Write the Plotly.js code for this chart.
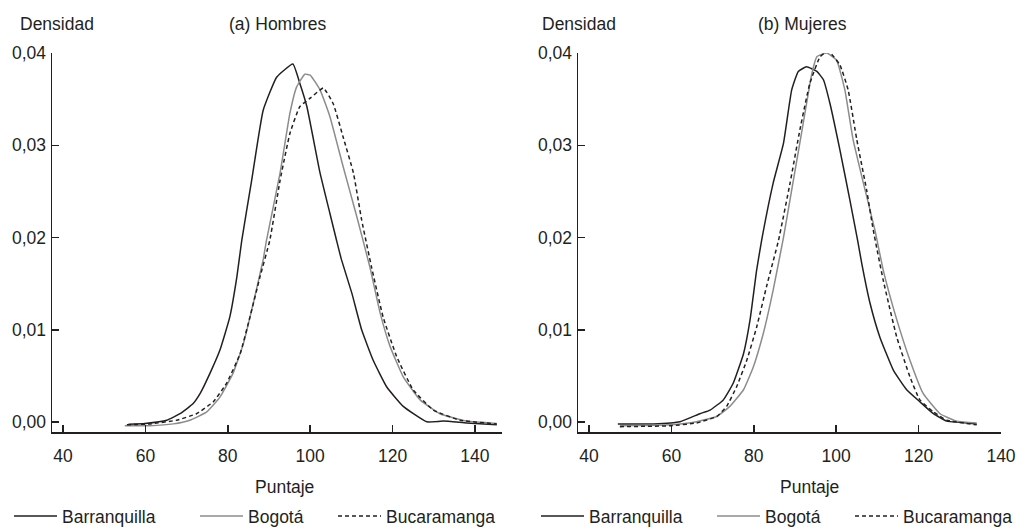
<!DOCTYPE html>
<html>
<head>
<meta charset="utf-8">
<script src="https://cdn.plot.ly/plotly-3.0.1.min.js"></script>
<style>
html,body{margin:0;padding:0;background:#fff;}
#chart{width:1019px;height:529px;}
</style>
</head>
<body>
<div id="chart"></div>
<script>
// ---- data ----
const seriesNames = ['Barranquilla', 'Bogotá', 'Bucaramanga'];
const panelTitles = ['(a) Hombres', '(b) Mujeres'];
const yTitle = 'Densidad';
const xTitle = 'Puntaje';
const xTickVals = [40, 60, 80, 100, 120, 140];
const yTickVals = [0, 0.01, 0.02, 0.03, 0.04];

// (a) Hombres
const menBarrX = [55.9, 59.9, 65.2, 68.4, 71.6, 73.3, 75.7, 78.1, 80.5, 82.2, 83.4, 85.8, 88.6, 91.9, 95.8, 97.5, 99.2, 102.4, 104.8, 106.4, 107.6, 110.1, 112.5, 115.3, 118.6, 122.6, 128.3, 132.3, 138, 145.3];
const menBarrY = [-0.00025, -0.00015, 0.0002, 0.0009, 0.002, 0.0031, 0.0053, 0.0078, 0.0114, 0.0157, 0.0197, 0.0262, 0.0338, 0.0374, 0.0388, 0.0367, 0.0342, 0.027, 0.0226, 0.0197, 0.0176, 0.014, 0.01, 0.0067, 0.0038, 0.0017, 0.00003, 0.0001, -0.0001, -0.0003];
const menBogX = [55.0, 61.1, 66.8, 70.8, 74.9, 78.1, 81.3, 83.8, 86.2, 88.6, 89.4, 92.7, 95.1, 96.7, 98.7, 100, 102.4, 104.8, 108.0, 111.3, 114.5, 117, 119.4, 122.6, 126.7, 131.5, 138, 145.3];
const menBogY = [-0.0004, -0.0004, -0.0002, 0.0002, 0.0011, 0.0027, 0.0053, 0.0085, 0.0129, 0.0176, 0.0197, 0.027, 0.0335, 0.0363, 0.0377, 0.0376, 0.036, 0.0331, 0.0277, 0.0223, 0.0168, 0.0118, 0.0082, 0.0049, 0.0024, 0.0009, 0.0001, -0.00015];
const menBucX = [55.5, 61.1, 67.6, 72.4, 76.5, 79.7, 83.0, 85.4, 87.8, 90.2, 92.7, 95.1, 97.5, 100, 103.2, 105.6, 108.0, 110.5, 112.5, 114.9, 117.7, 121, 125, 129.9, 136.4, 145.3];
const menBucY = [-0.0003, -0.0002, 0.0002, 0.0009, 0.0022, 0.0042, 0.0074, 0.0114, 0.0157, 0.0197, 0.0262, 0.0313, 0.0342, 0.0351, 0.0362, 0.0345, 0.0309, 0.027, 0.0219, 0.0168, 0.0114, 0.0071, 0.0035, 0.0013, 0.0002, -0.0002];

// (b) Mujeres
const womBarrX = [47, 55.6, 62.1, 66.9, 69.4, 72.6, 75.0, 77.5, 79.1, 80.7, 81.9, 84.7, 87.2, 89.2, 90.8, 92.8, 95.3, 96.9, 98.5, 100.9, 103.3, 105.2, 106.2, 108.2, 110.6, 113.9, 117.1, 120.3, 123.6, 126.8, 130.0, 134.1];
const womBarrY = [-0.0002, -0.0002, 0.00003, 0.0009, 0.0013, 0.0024, 0.0042, 0.0074, 0.0111, 0.0165, 0.0197, 0.0259, 0.0302, 0.036, 0.038, 0.0385, 0.038, 0.0371, 0.0345, 0.0295, 0.0241, 0.0197, 0.0172, 0.0129, 0.0092, 0.0056, 0.0035, 0.0022, 0.0009, 0.0001, -0.00003, -0.0002];
const womBogX = [47.5, 59.7, 66.1, 71.0, 74.2, 77.5, 79.9, 82.3, 84.7, 87.2, 89.6, 92.0, 94.1, 95.3, 97.7, 100.1, 102.1, 104.1, 106.6, 109.4, 111.4, 114.7, 117.9, 121.1, 125.2, 129.2, 134.1];
const womBogY = [-0.0004, -0.0003, 0.00003, 0.0006, 0.0017, 0.0035, 0.006, 0.0096, 0.0143, 0.02, 0.0262, 0.0324, 0.0378, 0.0396, 0.04, 0.0392, 0.036, 0.0306, 0.0259, 0.0208, 0.0165, 0.0111, 0.0067, 0.0031, 0.0009, 0.0001, -0.0001];
const womBucX = [47.5, 59.7, 66.1, 71.0, 73.4, 75.8, 78.3, 80.7, 83.1, 86.0, 88.8, 91.2, 93.6, 96.1, 98.1, 100.9, 102.9, 105.0, 107.4, 109.0, 111.4, 114.7, 117.9, 120.3, 123.6, 126.8, 134.1];
const womBucY = [-0.0005, -0.0004, -0.0001, 0.0006, 0.0017, 0.0038, 0.0067, 0.0103, 0.0147, 0.0197, 0.0259, 0.0317, 0.0367, 0.0396, 0.0402, 0.0387, 0.036, 0.0306, 0.0251, 0.0208, 0.0154, 0.0092, 0.0049, 0.0024, 0.0011, 0.0002, -0.0003];

// ---- styling ----
const FONT = '"Liberation Sans", Arial, sans-serif';
const FS = 17.5;
const INK = '#231f20';
const styles = [
  {color: INK, width: 1.5, dash: 'solid'},
  {color: '#8c8c8c', width: 1.5, dash: 'solid'},
  {color: INK, width: 1.5, dash: '4px,3px'}
];

const panels = [
  {xs: [menBarrX, menBogX, menBucX], ys: [menBarrY, menBogY, menBucY], xa: 'x', ya: 'y'},
  {xs: [womBarrX, womBogX, womBucX], ys: [womBarrY, womBogY, womBucY], xa: 'x2', ya: 'y2'}
];

const traces = [];
panels.forEach((p, pi) => {
  for (let s = 0; s < 3; s++) {
    const idx = pi * 3 + s;
    const legId = 'legend' + (idx === 0 ? '' : (idx + 1));
    traces.push({
      type: 'scatter', mode: 'lines',
      x: p.xs[s], y: p.ys[s], xaxis: p.xa, yaxis: p.ya,
      name: seriesNames[s], legend: legId, showlegend: true,
      line: {color: styles[s].color, width: styles[s].width, dash: styles[s].dash, shape: 'spline', smoothing: 0.4},
      hoverinfo: 'skip'
    });
  }
});

const W = 1019, H = 529;
const px = v => v / W;
const py = v => (H - v) / H;

function xAxis(domain, range, extraEnd) {
  const vals = xTickVals.slice();
  const txt = xTickVals.map(String);
  if (extraEnd) { vals.push(range[1]); txt.push(''); }
  return {
    domain: domain, range: range, showgrid: false, zeroline: false,
    showline: true, linecolor: INK, linewidth: 1.5,
    ticks: 'inside', ticklen: 7, tickwidth: 1.5, tickcolor: INK,
    tickmode: 'array', tickvals: vals, ticktext: txt,
    tickfont: {family: FONT, size: FS, color: INK},
    ticklabelstandoff: 7,
    fixedrange: true
  };
}
function yAxis(anchor) {
  return {
    domain: [py(432), py(53)], range: [-0.00108, 0.04], anchor: anchor,
    showgrid: false, zeroline: false,
    showline: true, linecolor: INK, linewidth: 1.5,
    ticks: 'inside', ticklen: 7, tickwidth: 1.5, tickcolor: INK,
    tickmode: 'array', tickvals: yTickVals, tickformat: '.2f',
    tickfont: {family: FONT, size: FS, color: INK},
    ticklabelstandoff: 1,
    fixedrange: true
  };
}

const legendPos = [14, 200, 338, 541, 717, 855];
const layout = {
  width: W, height: H,
  margin: {l: 0, r: 0, t: 0, b: 0, autoexpand: false},
  paper_bgcolor: '#fff', plot_bgcolor: '#fff',
  separators: ',.',
  font: {family: FONT, size: FS, color: INK},
  xaxis: Object.assign(xAxis([px(52), px(501.7)], [37.33, 146.5], true), {anchor: 'y'}),
  yaxis: yAxis('x'),
  xaxis2: Object.assign(xAxis([px(578), px(1001)], [37.33, 140], false), {anchor: 'y2'}),
  yaxis2: yAxis('x2'),
  annotations: [
    {text: yTitle, x: px(19), xanchor: 'left', y: py(24), yanchor: 'middle'},
    {text: panelTitles[0], x: px(277), xanchor: 'center', y: py(24), yanchor: 'middle'},
    {text: yTitle, x: px(541), xanchor: 'left', y: py(24), yanchor: 'middle'},
    {text: panelTitles[1], x: px(802), xanchor: 'center', y: py(24), yanchor: 'middle'},
    {text: xTitle, x: px(284), xanchor: 'center', y: py(487), yanchor: 'middle'},
    {text: xTitle, x: px(809), xanchor: 'center', y: py(487), yanchor: 'middle'}
  ].map(a => Object.assign({xref: 'paper', yref: 'paper', showarrow: false, borderpad: 0, font: {family: FONT, size: FS, color: INK}}, a))
};
legendPos.forEach((lx, i) => {
  const key = 'legend' + (i === 0 ? '' : (i + 1));
  layout[key] = {
    x: px(lx - 5), xanchor: 'left', y: py(516), yanchor: 'middle',
    orientation: 'h', bgcolor: 'rgba(0,0,0,0)', borderwidth: 0,
    itemwidth: 43, font: {family: FONT, size: FS, color: INK},
    itemclick: false, itemdoubleclick: false
  };
});

Plotly.newPlot('chart', traces, layout, {staticPlot: true, displayModeBar: false});
</script>
</body>
</html>
